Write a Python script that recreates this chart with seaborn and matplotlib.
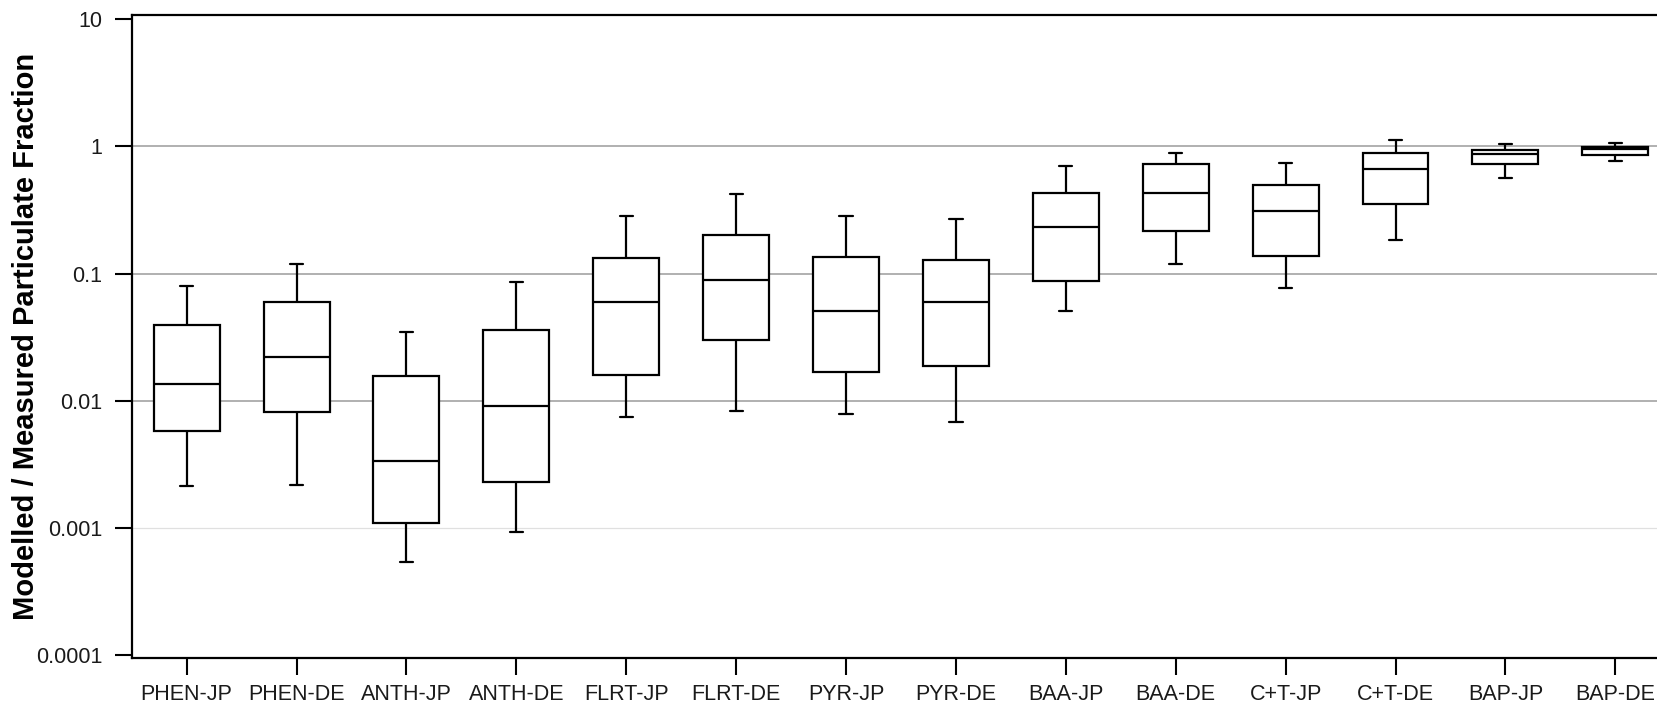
import matplotlib
matplotlib.use("Agg")
import matplotlib.pyplot as plt
from matplotlib.ticker import NullLocator, FixedLocator, FixedFormatter
import seaborn as sns
import pandas as pd

# Compound / site combinations along the x axis
compounds = ["PHEN-JP", "PHEN-DE", "ANTH-JP", "ANTH-DE", "FLRT-JP", "FLRT-DE",
             "PYR-JP", "PYR-DE", "BAA-JP", "BAA-DE", "C+T-JP", "C+T-DE",
             "BAP-JP", "BAP-DE"]

# Five-number summaries of the modelled / measured particulate fraction
whisker_low = [0.00213, 0.00216, 0.000543, 0.000933, 0.00748, 0.00828,
               0.00785, 0.00675, 0.0508, 0.1198, 0.0766, 0.185, 0.567, 0.762]
quartile_1 = [0.00577, 0.00809, 0.0011, 0.0023, 0.0158, 0.0303,
              0.01668, 0.0188, 0.087, 0.2148, 0.1368, 0.3548, 0.722, 0.849]
median = [0.01343, 0.02213, 0.00337, 0.00902, 0.0592, 0.0886,
          0.0512, 0.0600, 0.231, 0.4276, 0.308, 0.668, 0.876, 0.955]
quartile_3 = [0.0393, 0.0598, 0.0157, 0.0363, 0.1326, 0.200,
              0.1349, 0.1288, 0.4326, 0.722, 0.500, 0.885, 0.942, 0.982]
whisker_high = [0.0795, 0.1183, 0.0348, 0.0859, 0.282, 0.418,
                0.2835, 0.268, 0.697, 0.885, 0.735, 1.115, 1.05, 1.062]

y_ticks = [0.0001, 0.001, 0.01, 0.1, 1, 10]
y_tick_labels = ["0.0001", "0.001", "0.01", "0.1", "1", "10"]

# Long table: each compound contributes its five summary values, so the
# box-plot quartiles and whisker ends (0th/100th percentile) land on them.
rows = []
for i, name in enumerate(compounds):
    for v in (whisker_low[i], quartile_1[i], median[i], quartile_3[i], whisker_high[i]):
        rows.append({"compound": name, "ratio": v})
df = pd.DataFrame(rows)

sns.set_style("ticks")
plt.rcParams["font.family"] = ["Liberation Sans", "DejaVu Sans"]

fig = plt.figure(figsize=(16.57, 7.10), dpi=100)
ax = fig.add_axes([0.0795, 0.0728, 0.9285, 0.906])

sns.boxplot(data=df, x="compound", y="ratio", order=compounds, whis=(0, 100),
            width=0.6, color="white", saturation=1, linecolor="black",
            linewidth=1.6, fliersize=0, log_scale=True, capwidths=0.12, ax=ax)

ax.set_xlim(-0.5, 13.5)
ax.set_ylim(9.46e-5, 10.75)
ax.yaxis.set_major_locator(FixedLocator(y_ticks))
ax.yaxis.set_major_formatter(FixedFormatter(y_tick_labels))
ax.yaxis.set_minor_locator(NullLocator())

# horizontal reference lines at the inner decades
ax.grid(axis="y")
for line, val in zip(ax.yaxis.get_gridlines(), y_ticks):
    if val in (0.01, 0.1, 1):
        line.set_color("#b0b0b0")
        line.set_linewidth(1.4)
    elif val == 0.001:
        line.set_color("#e0e0e0")
        line.set_linewidth(0.9)
    else:
        line.set_visible(False)
ax.set_axisbelow(True)

for side in ("left", "bottom", "top", "right"):
    ax.spines[side].set_color("black")
    ax.spines[side].set_linewidth(1.6)

ax.tick_params(axis="both", direction="out", length=12, width=1.5,
               color="black", labelsize=15.5, labelcolor="#1a1a1a")
ax.tick_params(axis="x", pad=6.5)
ax.tick_params(axis="y", pad=9)

ax.set_xlabel("")
ax.set_ylabel("Modelled / Measured Particulate Fraction", fontsize=21,
              fontweight="bold", color="black", labelpad=-3)

fig.savefig("out.png", dpi=100)
